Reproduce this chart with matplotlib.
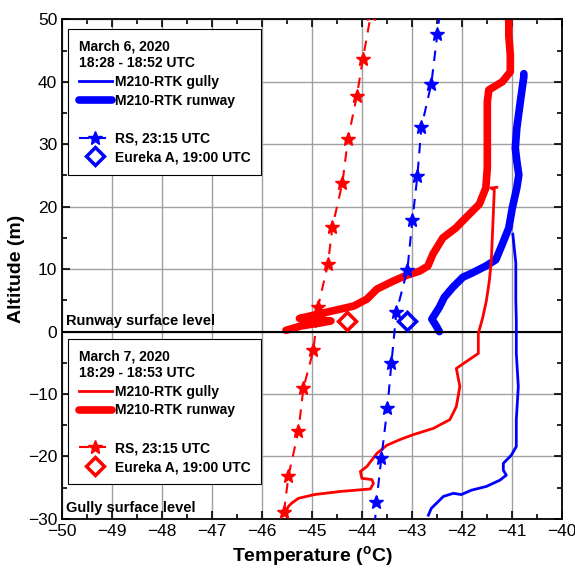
import numpy as np
import matplotlib
matplotlib.use("Agg")
import matplotlib.pyplot as plt
from matplotlib.lines import Line2D

plt.rcParams['font.family'] = ['Liberation Sans', 'DejaVu Sans']

# March 6 (blue): radiosonde, drone over runway and gully, Eureka obs
rs6_T = [-43.77, -43.71, -43.61, -43.49, -43.41, -43.31, -43.09, -42.99, -42.89, -42.81, -42.61, -42.49, -42.38]
rs6_z = [-34.0, -27.3, -20.2, -12.2, -5.1, 3.1, 9.9, 17.8, 24.9, 32.7, 39.7, 47.7, 55.0]
run6_T = [-42.45, -42.52, -42.60, -42.52, -42.45, -42.35, -42.18, -41.98, -41.79, -41.52, -41.32, -41.19,
          -41.06, -40.99, -40.90, -40.86, -40.90, -40.93, -40.90, -40.83, -40.76, -40.76]
run6_z = [0.0, 1.0, 2.0, 3.0, 3.9, 5.5, 7.1, 8.7, 9.4, 10.5, 11.5, 14.0,
          16.6, 19.8, 23.0, 25.1, 27.3, 29.4, 32.6, 36.8, 40.8, 41.3]
gul6_T = [-42.67, -42.61, -42.37, -42.17, -42.01, -41.81, -41.51, -41.24, -41.11, -41.17, -41.17, -41.01,
          -40.91, -40.91, -40.87, -40.91, -40.91, -40.92, -40.92, -40.98]
gul6_z = [-29.4, -28.3, -26.4, -25.9, -26.1, -25.4, -24.8, -23.8, -23.0, -22.2, -21.1, -19.8,
          -18.4, -14.1, -8.8, -3.5, 1.8, 5.0, 11.0, 15.6]
eur6_T = [-43.09]
eur6_z = [1.75]

# March 7 (red)
rs7_T = [-45.56, -45.47, -45.27, -45.17, -44.97, -44.88, -44.68, -44.59, -44.39, -44.28, -44.10, -43.98, -43.82]
rs7_z = [-28.9, -23.1, -15.9, -9.0, -3.0, 3.9, 10.8, 16.8, 23.8, 30.8, 37.8, 43.7, 50.8]
run7_T = [-45.52, -45.22, -44.82, -44.62, -44.93, -45.25, -44.98, -44.82, -44.43, -44.16, -43.90, -43.70,
          -43.37, -43.11, -42.84, -42.68, -42.58, -42.38, -42.12, -41.85, -41.65, -41.52, -41.49,
          -41.49, -41.49, -41.46, -41.19, -41.03, -41.03, -41.06, -41.06, -41.08]
run7_z = [0.2, 0.9, 1.4, 1.7, 1.9, 2.1, 2.6, 2.9, 3.6, 4.1, 5.2, 6.8,
          8.1, 9.0, 9.7, 10.5, 12.4, 15.0, 16.6, 18.8, 20.4, 23.0, 26.2,
          31.5, 36.8, 38.7, 40.0, 41.6, 44.3, 47.4, 49.6, 51.0]
gul7_T = [-45.56, -45.47, -45.41, -45.27, -44.95, -44.43, -43.83, -43.77, -43.80, -44.00, -44.03, -43.90,
          -43.70, -43.50, -43.24, -42.97, -42.57, -42.24, -42.11, -42.04, -42.11, -41.91, -41.67,
          -41.67, -41.58, -41.51, -41.45, -41.41, -41.38, -41.35, -41.42, -41.30]
gul7_z = [-29.3, -28.0, -27.5, -26.7, -26.1, -25.6, -25.2, -24.3, -23.7, -23.5, -22.4, -21.6,
          -19.5, -18.2, -17.3, -16.5, -15.5, -14.1, -12.0, -8.8, -5.9, -4.8, -3.5,
          -0.3, 2.3, 4.9, 8.1, 11.3, 17.0, 22.7, 23.0, 23.1]
eur7_T = [-44.29]
eur7_z = [1.75]

fig = plt.figure(figsize=(5.75, 5.69), dpi=100)
ax = fig.add_axes([0.108, 0.088, 0.869, 0.878])

ax.set_xlim(-50, -40)
ax.set_ylim(-30, 50)
ax.set_xticks(np.arange(-50, -39, 1))
ax.set_xticks(np.arange(-50, -40, 0.5), minor=True)
ax.set_yticks(np.arange(-30, 51, 10))
ax.set_yticks(np.arange(-30, 51, 5), minor=True)
ax.grid(True, which='major', color='#a0a0a0', lw=1.0)
ax.set_axisbelow(True)
ax.tick_params(which='both', direction='in', top=True, right=True, labelsize=12.5)
ax.tick_params(which='major', length=6, width=1.2)
ax.tick_params(which='minor', length=3.5, width=1.2)
for s in ax.spines.values():
    s.set_linewidth(1.3)

# surface level line
ax.axhline(0, color='black', lw=1.5, zorder=3)

red = '#ff0000'
blue = '#0000ff'

# thick runway profiles, thin gully profiles
ax.plot(run6_T, run6_z, color=blue, lw=5.5, solid_capstyle='round', zorder=2)
ax.plot(run7_T, run7_z, color=red, lw=5.5, solid_capstyle='round', zorder=2)
ax.plot(gul6_T, gul6_z, color=blue, lw=2.0, zorder=4)
ax.plot(gul7_T, gul7_z, color=red, lw=2.0, zorder=4)

# radiosonde
ax.plot(rs6_T, rs6_z, color=blue, ls=(0, (5, 4)), lw=1.5, marker='*', ms=10, zorder=5)
ax.plot(rs7_T, rs7_z, color=red, ls=(0, (5, 4)), lw=1.5, marker='*', ms=10, zorder=5)

# Eureka
ax.plot(eur6_T, eur6_z, ls='none', marker='D', ms=9, mfc='none', mec=blue, mew=2.5, zorder=6)
ax.plot(eur7_T, eur7_z, ls='none', marker='D', ms=9, mfc='none', mec=red, mew=2.5, zorder=6)

ax.text(-49.92, 0.6, 'Runway surface level', fontsize=10.5, fontweight='bold', va='bottom', zorder=7)
ax.text(-49.92, -29.4, 'Gully surface level', fontsize=10.5, fontweight='bold', va='bottom', zorder=7)

ax.set_xlabel(r'Temperature ($\mathregular{^o}$C)', fontsize=14, fontweight='bold', labelpad=4)
ax.set_ylabel('Altitude (m)', fontsize=14, fontweight='bold', labelpad=2)


def make_legend(color, title, ytop):
    hs = [Line2D([], [], color=color, lw=2),
          Line2D([], [], color=color, lw=5.5, solid_capstyle='round'),
          Line2D([], [], color='none'),
          Line2D([], [], color=color, ls=(0, (5, 3)), lw=1.5, marker='*', ms=10),
          Line2D([], [], color=color, ls='none', marker='D', ms=9, mfc='none', mew=2.5)]
    labs = ['M210-RTK gully', 'M210-RTK runway', ' ', 'RS, 23:15 UTC', 'Eureka A, 19:00 UTC']
    leg = ax.legend(hs, labs, title=title, loc='upper left', bbox_to_anchor=(0.012, ytop),
                    borderaxespad=0,
                    prop={'weight': 'bold', 'size': 10},
                    title_fontproperties={'weight': 'bold', 'size': 10},
                    alignment='left', fancybox=False, framealpha=1, edgecolor='black',
                    handlelength=2.4, handletextpad=0.25, labelspacing=0.35,
                    borderpad=0.75, numpoints=1)
    leg.get_frame().set_linewidth(0.8)
    leg.set_zorder(8)
    return leg


leg1 = make_legend(blue, 'March 6, 2020\n18:28 - 18:52 UTC', 0.98)
ax.add_artist(leg1)
make_legend(red, 'March 7, 2020\n18:29 - 18:53 UTC', 0.36)

fig.savefig('out.png', dpi=100)
